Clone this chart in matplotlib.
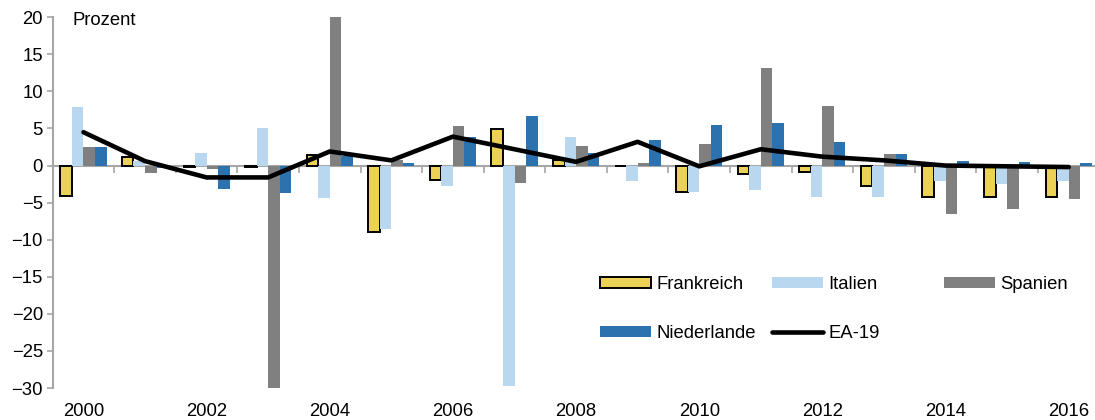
import numpy as np
import matplotlib.pyplot as plt
from matplotlib.patches import Patch
from matplotlib.lines import Line2D

plt.rcParams['font.family'] = ['Liberation Sans', 'DejaVu Sans']

jahre = list(range(2000, 2017))
frankreich = [-4.1, 1.1, -0.2, -0.2, 1.4, -9.0, -2.0, 4.9, 0.8, -0.1, -3.6, -1.2, -0.9, -2.7, -4.3, -4.3, -4.3]
italien = [7.9, 0.6, 1.7, 5.0, -4.4, -8.6, -2.7, -29.7, 3.8, -2.1, -3.5, -3.3, -4.2, -4.2, -2.1, -2.5, -2.1]
spanien = [2.5, -1.0, -0.4, -30.5, 20.5, 0.7, 5.4, -2.3, 2.6, 0.3, 2.9, 13.2, 8.0, 1.6, -6.5, -5.9, -4.5]
niederlande = [2.5, -0.3, -3.2, -3.7, 1.3, 0.4, 3.8, 6.7, 1.7, 3.4, 5.5, 5.7, 3.2, 1.5, 0.6, 0.5, 0.3]
ea19 = [4.5, 0.6, -1.6, -1.6, 1.9, 0.7, 3.9, 2.2, 0.5, 3.2, -0.1, 2.2, 1.2, 0.7, 0.0, -0.1, -0.2]

gelb = '#EBD155'
hellblau = '#B9D7EE'
grau = '#808080'
blau = '#2B72AE'
achse = '#A6A6A6'
fs = 13.3

fig = plt.figure(figsize=(10.95, 4.2), dpi=100)
ax = fig.add_axes([0.0481, 0.076, 0.956, 0.883])

x = np.arange(len(jahre))
w = 0.1875
ax.bar(x - 1.5 * w, frankreich, w, color=gelb, edgecolor='black', linewidth=1.4, zorder=2)
ax.bar(x - 0.5 * w, italien, w, color=hellblau, zorder=2)
ax.bar(x + 0.5 * w, spanien, w, color=grau, zorder=2)
ax.bar(x + 1.5 * w, niederlande, w, color=blau, zorder=2)
ax.plot(x, ea19, color='black', linewidth=3.3, solid_capstyle='round', zorder=4)

ax.set_xlim(-0.5, len(jahre) - 0.5)
ax.set_ylim(-30, 20)
ax.set_yticks(np.arange(-30, 21, 5))
ax.tick_params(axis='y', direction='out', length=4, width=1.2, color=achse, labelsize=fs, pad=3)

# Jahreszahlen unten, nur jedes zweite Jahr
ax.set_xticks(x[::2])
ax.set_xticklabels([str(j) for j in jahre[::2]])
ax.tick_params(axis='x', length=0, labelsize=fs, pad=11)

for s in ['top', 'right', 'bottom']:
    ax.spines[s].set_visible(False)
ax.spines['left'].set_color(achse)
ax.spines['left'].set_linewidth(1.5)

# Nulllinie mit Teilstrichen zwischen den Jahren (nach unten)
nulllinie = ax.secondary_xaxis(0.6)
nulllinie.set_xticks(np.arange(-0.5, len(jahre), 1.0))
nulllinie.set_xticklabels([])
for s in nulllinie.spines.values():
    s.set_color(achse)
    s.set_linewidth(1.5)
nulllinie.tick_params(axis='x', direction='in', length=5, width=1.2, color=achse)
nulllinie.set_zorder(1)

ax.text(0.019, 0.99, 'Prozent', transform=ax.transAxes, fontsize=fs, va='center', ha='left')

griffe = [
    [(Patch(facecolor=gelb, edgecolor='black', linewidth=1.4), 'Frankreich'),
     (Patch(facecolor=blau), 'Niederlande')],
    [(Patch(facecolor=hellblau), 'Italien'),
     (Line2D([], [], color='black', linewidth=3.3, solid_capstyle='round'), 'EA-19')],
    [(Patch(facecolor=grau), 'Spanien')],
]
spalten_x = [600, 772, 944]
for sx, eintraege in zip(spalten_x, griffe):
    leg = fig.legend([e[0] for e in eintraege], [e[1] for e in eintraege],
                     loc='upper left', bbox_to_anchor=(sx / 1095, 1 - 276 / 420),
                     frameon=False, fontsize=fs, handlelength=2.75, handleheight=0.55,
                     handletextpad=0.3, labelspacing=1.72, borderpad=0, borderaxespad=0)

fig.savefig('out.png', dpi=100)
